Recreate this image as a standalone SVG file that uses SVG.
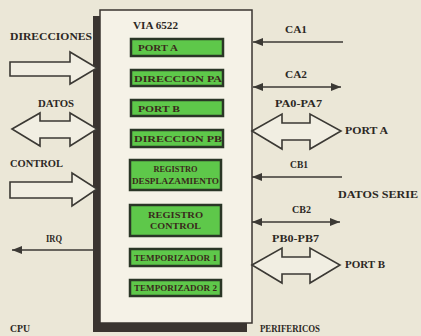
<svg xmlns="http://www.w3.org/2000/svg" width="421" height="336" viewBox="0 0 421 336">
<defs>
<style>
.lbl{font-family:"Liberation Serif","Times New Roman",serif;font-weight:bold;font-size:10px;fill:#2b2824}
.btx{font-family:"Liberation Serif","Times New Roman",serif;font-weight:bold;font-size:9px;fill:#3a2a1c}
.reg{fill:#5ec84a;stroke:#2a3626;stroke-width:2.5}
.big{fill:#f1eee2;stroke:#3b3934;stroke-width:1.6;stroke-linejoin:miter}
.wire{fill:none;stroke:#3b3934;stroke-width:1.6}
</style>
<marker id="ah" viewBox="0 0 10 8" refX="10" refY="4" markerWidth="10" markerHeight="8" markerUnits="userSpaceOnUse" orient="auto-start-reverse">
<path d="M0,0 L10,4 L0,8 Z" fill="#3b3934"/>
</marker>
</defs>
<rect width="421" height="336" fill="#ebe7d7"/>

<g id="via6522">
<rect x="93" y="16" width="154" height="316" fill="#3a3430"/>
<rect x="100" y="10" width="152" height="313" fill="#f5f2e7" stroke="#3a3430" stroke-width="1.5"/>
<text class="lbl" x="133" y="29" textLength="45" lengthAdjust="spacingAndGlyphs">VIA 6522</text>
</g>

<g id="port-a-reg">
<rect class="reg" x="131" y="39" width="92" height="17"/>
<text class="btx" x="138" y="51" textLength="40" lengthAdjust="spacingAndGlyphs">PORT A</text>
</g>
<g id="direccion-pa">
<rect class="reg" x="131" y="70" width="92" height="16"/>
<text class="btx" x="134" y="82" textLength="88" lengthAdjust="spacingAndGlyphs">DIRECCION PA</text>
</g>
<g id="port-b-reg">
<rect class="reg" x="131" y="100" width="92" height="16"/>
<text class="btx" x="138" y="112" textLength="42" lengthAdjust="spacingAndGlyphs">PORT B</text>
</g>
<g id="direccion-pb">
<rect class="reg" x="131" y="130" width="92" height="17"/>
<text class="btx" x="134" y="142" textLength="88" lengthAdjust="spacingAndGlyphs">DIRECCION PB</text>
</g>
<g id="registro-desplazamiento">
<rect class="reg" x="130" y="160" width="91" height="30"/>
<text class="btx" x="175.5" y="172" text-anchor="middle" font-size="8" textLength="44" lengthAdjust="spacingAndGlyphs">REGISTRO</text>
<text class="btx" x="175.5" y="184" text-anchor="middle" font-size="8" textLength="87" lengthAdjust="spacingAndGlyphs">DESPLAZAMIENTO</text>
</g>
<g id="registro-control">
<rect class="reg" x="130" y="205" width="91" height="31"/>
<text class="btx" x="175.5" y="218" text-anchor="middle" font-size="10" textLength="55" lengthAdjust="spacingAndGlyphs">REGISTRO</text>
<text class="btx" x="175.5" y="229" text-anchor="middle" font-size="10" textLength="51" lengthAdjust="spacingAndGlyphs">CONTROL</text>
</g>
<g id="temporizador-1">
<rect class="reg" x="130" y="249" width="91" height="17"/>
<text class="btx" x="175.5" y="261" text-anchor="middle" font-size="8" textLength="83" lengthAdjust="spacingAndGlyphs">TEMPORIZADOR 1</text>
</g>
<g id="temporizador-2">
<rect class="reg" x="130" y="280" width="91" height="16"/>
<text class="btx" x="175.5" y="291" text-anchor="middle" font-size="8" textLength="83" lengthAdjust="spacingAndGlyphs">TEMPORIZADOR 2</text>
</g>

<g id="connectors">
<path class="big" d="M10,62 H70 V52 L97,68 L70,84 V76 H10 Z"/>
<path class="big" d="M12,129 L40,113 V121 H70 V113 L97,129 L70,146 V138 H40 V146 Z"/>
<path class="big" d="M10,182 H72 V173 L97,189 L72,206 V198 H10 Z"/>
<path class="big" d="M252,131 L282,114 V123 H310 V114 L341,131 L310,149 V140 H282 V149 Z"/>
<path class="big" d="M252,265 L282,248 V257 H310 V248 L340,265 L310,283 V274 H282 V283 Z"/>
<line class="wire" x1="343" y1="42" x2="253" y2="42" marker-end="url(#ah)"/>
<line class="wire" x1="253" y1="87" x2="341" y2="87" marker-start="url(#ah)" marker-end="url(#ah)"/>
<line class="wire" x1="342" y1="177" x2="252" y2="177" marker-end="url(#ah)"/>
<line class="wire" x1="252" y1="222" x2="340" y2="222" marker-start="url(#ah)" marker-end="url(#ah)"/>
<line class="wire" x1="95" y1="250" x2="12" y2="250" marker-end="url(#ah)"/>
</g>

<g id="labels">
<text class="lbl" x="10" y="40" textLength="82" lengthAdjust="spacingAndGlyphs">DIRECCIONES</text>
<text class="lbl" x="38" y="107" textLength="36" lengthAdjust="spacingAndGlyphs">DATOS</text>
<text class="lbl" x="10" y="167" textLength="53" lengthAdjust="spacingAndGlyphs">CONTROL</text>
<text class="lbl" x="46" y="242" textLength="16" lengthAdjust="spacingAndGlyphs">IRQ</text>
<text class="lbl" x="10" y="332" textLength="20" lengthAdjust="spacingAndGlyphs">CPU</text>
<text class="lbl" x="285" y="33" textLength="22" lengthAdjust="spacingAndGlyphs">CA1</text>
<text class="lbl" x="285" y="78" textLength="22" lengthAdjust="spacingAndGlyphs">CA2</text>
<text class="lbl" x="275" y="107" textLength="47" lengthAdjust="spacingAndGlyphs">PA0-PA7</text>
<text class="lbl" x="345" y="134" textLength="43" lengthAdjust="spacingAndGlyphs">PORT A</text>
<text class="lbl" x="290" y="168" textLength="18" lengthAdjust="spacingAndGlyphs">CB1</text>
<text class="lbl" x="338" y="198" textLength="80" lengthAdjust="spacingAndGlyphs">DATOS SERIE</text>
<text class="lbl" x="292" y="213" textLength="19" lengthAdjust="spacingAndGlyphs">CB2</text>
<text class="lbl" x="272" y="242" textLength="47" lengthAdjust="spacingAndGlyphs">PB0-PB7</text>
<text class="lbl" x="345" y="268" textLength="40" lengthAdjust="spacingAndGlyphs">PORT B</text>
<text class="lbl" x="260" y="332" textLength="60" lengthAdjust="spacingAndGlyphs">PERIFERICOS</text>
</g>
</svg>
